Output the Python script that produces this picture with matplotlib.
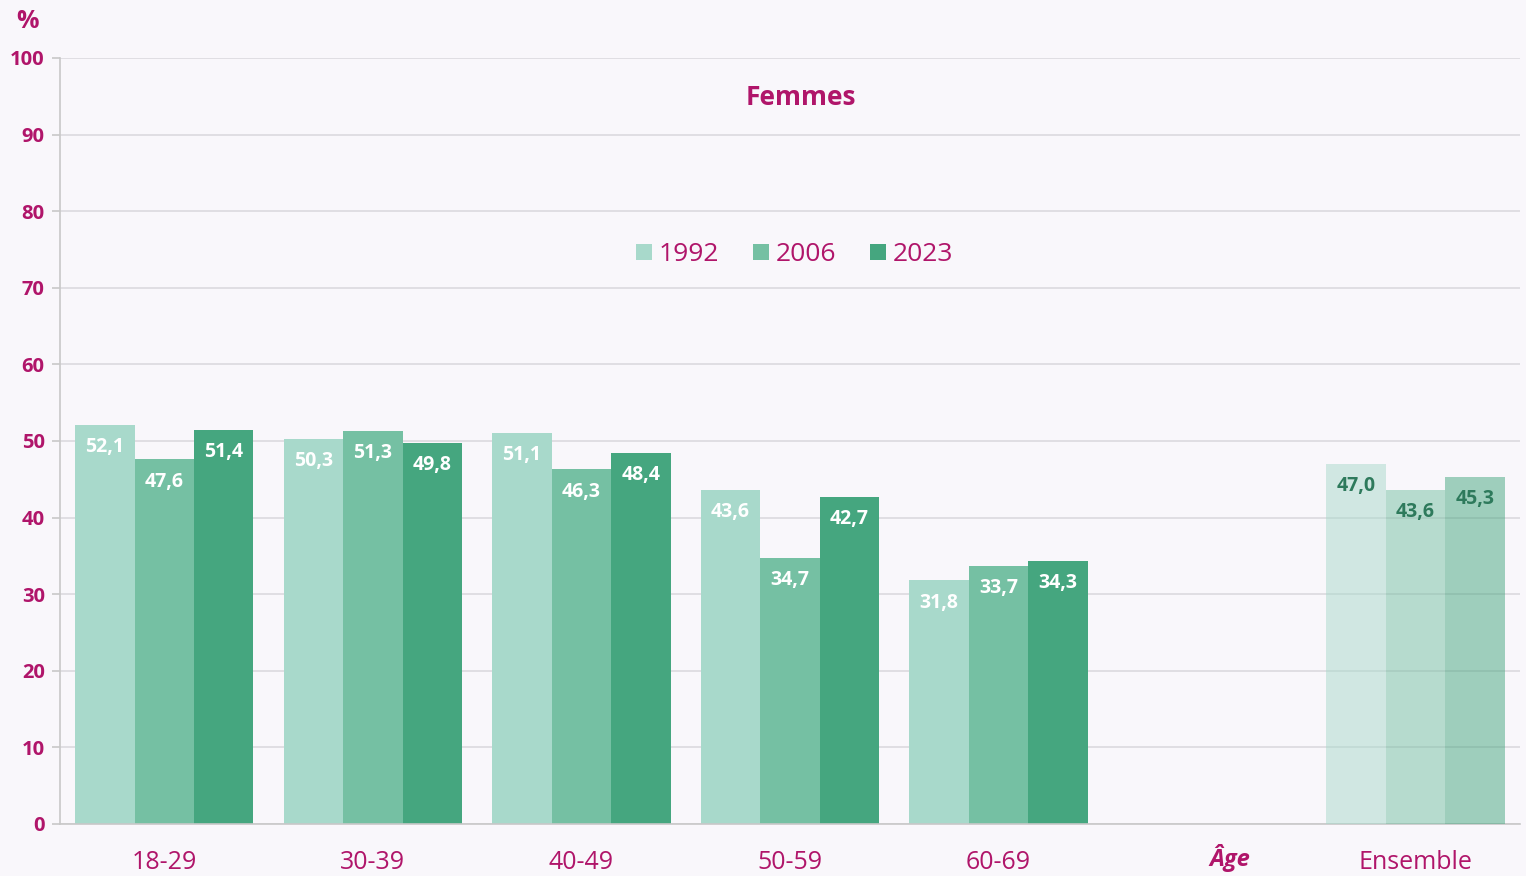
import numpy as np
import matplotlib.pyplot as plt

plt.rcParams['font.family'] = ['Open Sans', 'DejaVu Sans']

groupes = ['18-29', '30-39', '40-49', '50-59', '60-69']
v1992 = [52.1, 50.3, 51.1, 43.6, 31.8]
v2006 = [47.6, 51.3, 46.3, 34.7, 33.7]
v2023 = [51.4, 49.8, 48.4, 42.7, 34.3]
ensemble = [47.0, 43.6, 45.3]
annees = ['1992', '2006', '2023']

couleurs = ['#a8d9cb', '#75c0a3', '#45a67f']
magenta = '#b0156a'
fond = '#f9f7fb'

fig = plt.figure(figsize=(15.26, 8.76), dpi=100, facecolor=fond)
ax = fig.add_axes([0.0393, 0.0594, 0.9567, 0.8744], facecolor=fond)

x = np.arange(len(groupes))
w = 0.285
series = [v1992, v2006, v2023]
for i, (vals, c, lab) in enumerate(zip(series, couleurs, annees)):
    pos = x + (i - 1) * w
    ax.bar(pos, vals, width=w, color=c, label=lab, zorder=2)
    for p, v in zip(pos, vals):
        ax.text(p, v - 2.9, f'{v:.1f}'.replace('.', ','), ha='center', va='center',
                color='white', fontsize=14, fontweight='bold', zorder=3)

# ensemble, semi transparent
xe = 6
for i, (v, c) in enumerate(zip(ensemble, couleurs)):
    p = xe + (i - 1) * w
    ax.bar(p, v, width=w, color=c, alpha=0.5, zorder=4)
    ax.text(p, v - 2.9, f'{v:.1f}'.replace('.', ','), ha='center', va='center',
            color='#2e7a5c', fontsize=14, fontweight='bold', zorder=5)

ax.set_xlim(-0.5, 6.5)
ax.set_ylim(0, 100)
ax.set_yticks(range(0, 101, 10))
ax.yaxis.grid(True, color='#dcdadf', linewidth=1.2, zorder=0)
ax.set_axisbelow(True)
for s in ['top', 'right']:
    ax.spines[s].set_visible(False)
ax.spines['left'].set_color('#c8c8c8')
ax.spines['bottom'].set_color('#c8c8c8')
ax.spines['left'].set_linewidth(1.2)
ax.spines['bottom'].set_linewidth(1.2)
ax.tick_params(axis='y', colors='#c8c8c8', labelcolor=magenta, labelsize=14.5, length=6, width=1.2, pad=5)
ax.tick_params(axis='x', length=0, labelcolor=magenta, labelsize=18, pad=19)
for t in ax.get_yticklabels():
    t.set_fontweight('bold')

ax.set_xticks(list(x) + [xe])
ax.set_xticklabels(groupes + ['Ensemble'])

# libellé de l'axe
ax.text(5.11, -0.0444, 'Âge', transform=ax.get_xaxis_transform(), ha='center', va='center',
        color=magenta, fontsize=17, fontweight='bold', fontstyle='italic')

fig.text(0.0183, 0.976, '%', color=magenta, fontsize=18, fontweight='bold', ha='center', va='center')
ax.text(0.5075, 0.948, 'Femmes', transform=ax.transAxes, ha='center', va='center',
        color=magenta, fontsize=19, fontweight='bold')

leg = ax.legend(loc='center', bbox_to_anchor=(0.503, 0.743), ncol=3, frameon=False,
                fontsize=19, handlelength=0.6, handleheight=0.6, columnspacing=1.3, handletextpad=0.25)
for t in leg.get_texts():
    t.set_color(magenta)

fig.savefig('out.png', dpi=100, facecolor=fond)
